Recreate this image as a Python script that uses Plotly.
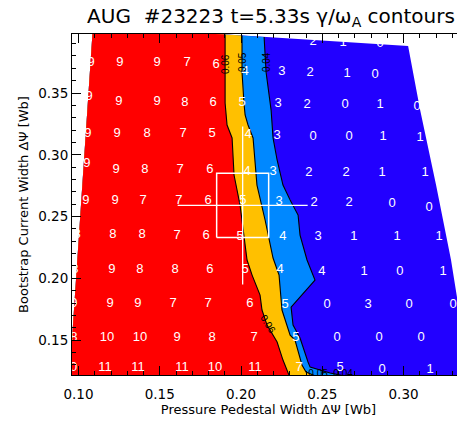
import plotly.graph_objects as go

# ---------------- text ----------------
title_text = "AUG\u00a0\u00a0#23223 t=5.33s γ/ω<sub>A</sub> contours"
x_title = "Pressure Pedestal Width ΔΨ [Wb]"
y_title = "Bootstrap Current Width ΔΨ [Wb]"

# ---------------- scanned domain outline (TL, TR, right edge..., BR, BL) ----------------
domain_x = [0.1089, 0.3028, 0.3102, 0.3200, 0.3292, 0.3366, 0.3440, 0.0935]
domain_y = [0.4043, 0.3881, 0.3362, 0.2755, 0.2148, 0.1540, 0.1014, 0.1014]

# ---------------- contour lines of gamma/omega_A (top -> bottom) ----------------
c060_x = [0.1902, 0.1902, 0.1914, 0.1945, 0.1957, 0.1994, 0.2037, 0.2068, 0.2117, 0.2129,
          0.2160, 0.2197, 0.2222, 0.2258, 0.2295, 0.2332]
c060_y = [0.3973, 0.3419, 0.3241, 0.3136, 0.2836, 0.2593, 0.2148, 0.2026, 0.1864, 0.1743,
          0.1621, 0.1540, 0.1484, 0.1338, 0.1217, 0.1095]

c050_x = [0.2006, 0.2006, 0.2018, 0.2025, 0.2043, 0.2074, 0.2098, 0.2148, 0.2197, 0.2234,
          0.2252, 0.2283, 0.2302, 0.2332, 0.2375, 0.2400, 0.2474, 0.2548]
c050_y = [0.3965, 0.3670, 0.3419, 0.3322, 0.3241, 0.3136, 0.2755, 0.2472, 0.2164, 0.2026,
          0.1743, 0.1621, 0.1540, 0.1500, 0.1298, 0.1241, 0.1200, 0.1095]

c040_x = [0.2142, 0.2154, 0.2185, 0.2197, 0.2222, 0.2258, 0.2302, 0.2351, 0.2363, 0.2406,
          0.2455, 0.2308, 0.2320, 0.2363, 0.2412, 0.2425, 0.2548, 0.2671, 0.2763]
c040_y = [0.3953, 0.3670, 0.3362, 0.3136, 0.2958, 0.2755, 0.2634, 0.2512, 0.2350, 0.2148,
          0.1986, 0.1767, 0.1621, 0.1516, 0.1322, 0.1281, 0.1233, 0.1200, 0.1095]

# contour label anchor points and text
clabel_x = [0.1902, 0.2006, 0.2154, 0.2163]
clabel_y = [0.3735, 0.3751, 0.3751, 0.1630]
clabel_text = ["0.06", "0.05", "0.04", "0.06"]
clabel_angle = [-90, -90, -90, 58]
cbottom_x = [0.2474, 0.2628]
cbottom_y = [0.1225, 0.1225]
cbottom_text = ["0.05", "0.04"]

# ---------------- numbers printed at scan points (rows top -> bottom) ----------------
label_x = [
    [0.2443, 0.2628, 0.2855],
    [0.1077, 0.1255, 0.1483, 0.1668, 0.1846, 0.2025, 0.2252, 0.2425, 0.2652, 0.2825],
    [0.1065, 0.1249, 0.1483, 0.1655, 0.1828, 0.2006, 0.2228, 0.2406, 0.2640, 0.2855, 0.3083],
    [0.1058, 0.1237, 0.1422, 0.1643, 0.1822, 0.2043, 0.2222, 0.2443, 0.2665, 0.2874, 0.3102],
    [0.1052, 0.1231, 0.1409, 0.1625, 0.1809, 0.2037, 0.2197, 0.2418, 0.2646, 0.2868, 0.3132],
    [0.1046, 0.1225, 0.1397, 0.1618, 0.1797, 0.2012, 0.2234, 0.2449, 0.2665, 0.2929, 0.3157],
    [0.0991, 0.1212, 0.1391, 0.1606, 0.1785, 0.1994, 0.2258, 0.2474, 0.2695, 0.2960, 0.3218],
    [0.0978, 0.1206, 0.1378, 0.1594, 0.1809, 0.2025, 0.2240, 0.2498, 0.2757, 0.2978, 0.3243],
    [0.0972, 0.1194, 0.1366, 0.1582, 0.1797, 0.2055, 0.2271, 0.2529, 0.2782, 0.3034, 0.3305],
    [0.0972, 0.1175, 0.1378, 0.1606, 0.1822, 0.2080, 0.2338, 0.2591, 0.2849, 0.3108, 0.3366],
    [0.0948, 0.1163, 0.1366, 0.1637, 0.1840, 0.2086, 0.2357, 0.2609, 0.2868, 0.3163],
]
label_y = [
    [0.3913, 0.3905, 0.3897],
    [0.3743, 0.3743, 0.3743, 0.3743, 0.3727, 0.3670, 0.3670, 0.3662, 0.3654, 0.3646],
    [0.3468, 0.3427, 0.3427, 0.3419, 0.3419, 0.3419, 0.3411, 0.3403, 0.3403, 0.3403, 0.3387],
    [0.3168, 0.3168, 0.3168, 0.3168, 0.3168, 0.3160, 0.3152, 0.3144, 0.3144, 0.3144, 0.3136],
    [0.2925, 0.2877, 0.2877, 0.2877, 0.2877, 0.2860, 0.2860, 0.2852, 0.2852, 0.2852, 0.2852],
    [0.2626, 0.2626, 0.2626, 0.2626, 0.2626, 0.2626, 0.2617, 0.2609, 0.2609, 0.2601, 0.2569],
    [0.2350, 0.2350, 0.2350, 0.2342, 0.2342, 0.2334, 0.2334, 0.2334, 0.2334, 0.2334, 0.2334],
    [0.2067, 0.2067, 0.2067, 0.2067, 0.2067, 0.2067, 0.2067, 0.2051, 0.2051, 0.2051, 0.2051],
    [0.1792, 0.1792, 0.1792, 0.1792, 0.1792, 0.1792, 0.1783, 0.1783, 0.1783, 0.1783, 0.1783],
    [0.1516, 0.1516, 0.1516, 0.1516, 0.1516, 0.1516, 0.1516, 0.1516, 0.1516, 0.1516, 0.1516],
    [0.1273, 0.1273, 0.1273, 0.1273, 0.1273, 0.1273, 0.1273, 0.1273, 0.1257, 0.1257],
]
label_val = [
    [2, 1, 0],
    [9, 9, 9, 7, 6, 4, 3, 2, 1, 0],
    [9, 9, 9, 8, 6, 5, 3, 2, 0, 1, 0],
    [9, 9, 8, 7, 5, 4, 3, 0, 0, 1, 1],
    [9, 9, 8, 7, 6, 4, 3, 2, 2, 1, 1],
    [9, 9, 7, 7, 6, 5, 3, 2, 2, 0, 0],
    [8, 8, 8, 7, 6, 5, 4, 3, 1, 1, 1],
    [8, 9, 8, 8, 6, 5, 4, 4, 1, 0, 1],
    [9, 9, 9, 7, 7, 6, 5, 0, 3, 0, 0],
    [8, 10, 10, 9, 8, 7, 5, 0, 0, 0, 1],
    [10, 11, 11, 11, 10, 11, 7, 5, 0, 1],
]

# ---------------- experimental point with error bars ----------------
exp_x = [0.201]
exp_y = [0.259]
exp_dx = [0.040]
exp_dy = [0.064]
box_dx = [0.016]
box_dy = [0.026]

# ---------------- colours ----------------
col_low = "#2200FF"      # < 0.04
col_040 = "#0088FF"      # 0.04 - 0.05
col_050 = "#FFC000"      # 0.05 - 0.06
col_060 = "#FF0000"      # > 0.06

fig = go.Figure()

# whole domain (lowest band)
fig.add_trace(go.Scatter(x=domain_x + [domain_x[0]], y=domain_y + [domain_y[0]],
                         mode="lines", fill="toself", fillcolor=col_low,
                         line=dict(width=0), hoverinfo="skip", showlegend=False))

# stacked filled bands: everything on the high side of each contour level
for cx, cy, col in [(c040_x, c040_y, col_040), (c050_x, c050_y, col_050), (c060_x, c060_y, col_060)]:
    xs = [domain_x[0]] + cx + [domain_x[-1], domain_x[0]]
    ys = [domain_y[0]] + cy + [domain_y[-1], domain_y[0]]
    fig.add_trace(go.Scatter(x=xs, y=ys, mode="lines", fill="toself", fillcolor=col,
                             line=dict(width=0), hoverinfo="skip", showlegend=False))

# contour lines
for cx, cy in [(c060_x, c060_y), (c050_x, c050_y), (c040_x, c040_y)]:
    fig.add_trace(go.Scatter(x=cx, y=cy, mode="lines", line=dict(color="black", width=1.1),
                             hoverinfo="skip", showlegend=False))

# experimental point: cross + box
fig.add_trace(go.Scatter(x=exp_x, y=exp_y, mode="markers",
                         marker=dict(size=1, color="white"),
                         error_x=dict(type="data", array=exp_dx, color="white", thickness=1.3, width=0),
                         error_y=dict(type="data", array=exp_dy, color="white", thickness=1.3, width=0),
                         hoverinfo="skip", showlegend=False))
bx0, bx1 = exp_x[0] - box_dx[0], exp_x[0] + box_dx[0]
by0, by1 = exp_y[0] - box_dy[0], exp_y[0] + box_dy[0]
fig.add_trace(go.Scatter(x=[bx0, bx1, bx1, bx0, bx0], y=[by0, by0, by1, by1, by0],
                         mode="lines", line=dict(color="white", width=1.5),
                         hoverinfo="skip", showlegend=False))

# numbers at scan points
fx, fy, ft = [], [], []
for rx, ry, rv in zip(label_x, label_y, label_val):
    fx += rx
    fy += ry
    ft += [str(v) for v in rv]
fig.add_trace(go.Scatter(x=fx, y=fy, text=ft, mode="text", cliponaxis=True,
                         textfont=dict(color="white", size=13,
                                       family="Liberation Sans Narrow, Liberation Sans, Arial"),
                         hoverinfo="skip", showlegend=False))

# bottom contour labels (clipped by the axis)
fig.add_trace(go.Scatter(x=cbottom_x, y=cbottom_y, text=cbottom_text, mode="text", cliponaxis=True,
                         textfont=dict(color="black", size=10, family="Liberation Sans Narrow, Liberation Sans"),
                         hoverinfo="skip", showlegend=False))

for lx, ly, lt, la in zip(clabel_x, clabel_y, clabel_text, clabel_angle):
    fig.add_annotation(x=lx, y=ly, text=lt, textangle=la, showarrow=False,
                       font=dict(color="black", size=10, family="Liberation Sans Narrow, Liberation Sans"))

axis_common = dict(
    ticks="inside", ticklen=9, tickwidth=1, tickcolor="black",
    showline=True, linecolor="black", linewidth=1,
    showgrid=False, zeroline=False, tickformat=".2f",
    tickfont=dict(size=13.5, color="black"), automargin=False,
)

fig.update_layout(
    width=457, height=422, template="none",
    margin=dict(l=64, r=0, t=26, b=55, pad=0),
    paper_bgcolor="white", plot_bgcolor="white",
    font=dict(family="DejaVu Sans", color="black"),
    showlegend=False,
    title=dict(text=title_text, x=0.5755, xanchor="center", xref="container",
               y=0.981, yanchor="middle", yref="container",
               font=dict(size=20, color="black")),
    xaxis=dict(range=[0.0960, 0.3378], tickmode="linear", tick0=0.10, dtick=0.05,
               mirror="ticks", ticklabelstandoff=7,
               minor=dict(ticks="inside", ticklen=4, tickcolor="black", tickmode="linear",
                          tick0=0.10, dtick=0.01, showgrid=False),
               title=dict(text=x_title, font=dict(size=13), standoff=3),
               **axis_common),
    yaxis=dict(range=[0.1217, 0.3978], tickmode="linear", tick0=0.15, dtick=0.05,
               mirror=False,
               minor=dict(ticks="inside", ticklen=4, tickcolor="black", tickmode="linear",
                          tick0=0.12, dtick=0.01, showgrid=False),
               title=dict(text=y_title, font=dict(size=13), standoff=6),
               **axis_common),
)

fig.write_html("out.html")
